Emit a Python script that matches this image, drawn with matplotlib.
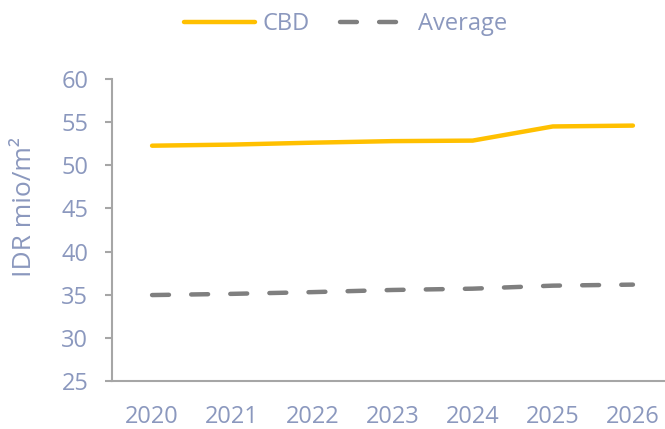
import matplotlib.pyplot as plt
from matplotlib.lines import Line2D

plt.rcParams['font.family'] = ['Open Sans', 'DejaVu Sans']

# Land price per square metre, IDR million
years = ['2020', '2021', '2022', '2023', '2024', '2025', '2026']
cbd = [52.27, 52.4, 52.62, 52.8, 52.86, 54.5, 54.6]
average = [34.96, 35.1, 35.3, 35.55, 35.7, 36.05, 36.17]

text_color = '#8B98BE'
axis_color = '#A6A6A6'
cbd_color = '#FFC000'
avg_color = '#7F7F7F'
fs = 17

fig = plt.figure(figsize=(6.65, 4.29), dpi=100)
ax = fig.add_axes([112 / 665, 48 / 429, 561 / 665, 302 / 429])

x = range(len(years))
ax.plot(x, cbd, color=cbd_color, lw=3.2, solid_capstyle='round',
        solid_joinstyle='round', label='CBD')
ax.plot(x, average, color=avg_color, lw=3.2, dashes=(3.8, 5.0),
        dash_capstyle='round', label='Average')

ax.set_xlim(-0.5, 6.5)
ax.set_ylim(25, 60)
ax.set_yticks(range(25, 61, 5))
ax.set_xticks(list(x))
ax.set_xticklabels(years)

for side in ['top', 'right']:
    ax.spines[side].set_visible(False)
for side in ['left', 'bottom']:
    ax.spines[side].set_color(axis_color)
    ax.spines[side].set_linewidth(1.5)

ax.tick_params(axis='y', length=5, width=1.5, color=axis_color,
               labelcolor=text_color, labelsize=fs, pad=12)
ax.tick_params(axis='x', length=0, labelcolor=text_color, labelsize=fs, pad=17)

ax.set_ylabel('IDR mio/m²', color=text_color, fontsize=19)
ax.yaxis.set_label_coords(-0.133, 0.575)

handles = [
    Line2D([], [], color=cbd_color, lw=3.2, solid_capstyle='round'),
    Line2D([], [], color=avg_color, lw=3.2, dashes=(3.8, 5.0), dash_capstyle='round'),
]
leg = fig.legend(handles, ['CBD', 'Average'], loc='center', ncol=2,
                 bbox_to_anchor=(0.52, 0.943), frameon=False, fontsize=fs,
                 handlelength=3.0, handletextpad=0.3, columnspacing=1.3)
for t in leg.get_texts():
    t.set_color(text_color)

fig.savefig('out.png', dpi=100)
